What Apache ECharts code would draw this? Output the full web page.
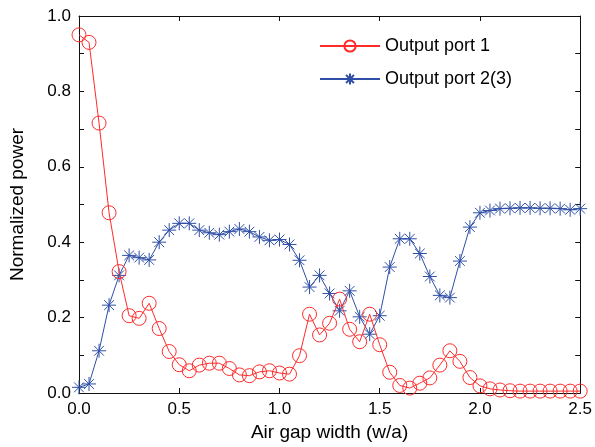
<!DOCTYPE html>
<html>
<head>
<meta charset="utf-8">
<script src="https://cdn.jsdelivr.net/npm/echarts@6/dist/echarts.min.js"></script>
<style>
  html, body { margin: 0; padding: 0; background: #fff; }
  #chart { width: 595px; height: 447px; }
</style>
</head>
<body>
<div id="chart"></div>
<script>
// air gap width (w/a), step 0.05
const gapWidth = [];
for (let i = 0; i <= 50; i++) gapWidth.push(+(i * 0.05).toFixed(2));

const port1 = [
    0.95, 0.93, 0.716, 0.478, 0.322, 0.205, 0.198, 0.238, 0.171, 0.110,
    0.075, 0.059, 0.074, 0.079, 0.079, 0.065, 0.048, 0.046, 0.056, 0.059,
    0.053, 0.050, 0.099, 0.209, 0.154, 0.185, 0.249, 0.169, 0.136, 0.209,
    0.128, 0.055, 0.020, 0.013, 0.026, 0.040, 0.074, 0.112, 0.084, 0.041,
    0.019, 0.011, 0.008, 0.006, 0.005, 0.005, 0.005, 0.005, 0.005, 0.005,
    0.005
];

const port23 = [
    0.015, 0.024, 0.112, 0.233, 0.312, 0.365, 0.359, 0.353, 0.400, 0.432,
    0.450, 0.450, 0.432, 0.425, 0.420, 0.428, 0.435, 0.428, 0.414, 0.405,
    0.407, 0.394, 0.352, 0.281, 0.312, 0.264, 0.218, 0.271, 0.202, 0.156,
    0.205, 0.334, 0.409, 0.409, 0.370, 0.309, 0.259, 0.253, 0.350, 0.440,
    0.478, 0.484, 0.489, 0.490, 0.491, 0.491, 0.490, 0.490, 0.489, 0.486,
    0.489
];

const seriesNames = ['Output port 1', 'Output port 2(3)'];

const red = '#ff2a2a';
const blue = '#2f4fa6';
const asterisk = 'path://M0,-10L0,10M-10,0L10,0M-7,-7L7,7M-7,7L7,-7';

const chart = echarts.init(document.getElementById('chart'));

const frameAxis = {
    axisLine: { show: true, onZero: false, lineStyle: { color: '#111', width: 1 } },
    axisTick: { show: true, inside: true, length: 5, lineStyle: { color: '#111' } },
    splitLine: { show: false }
};

const option = {
    animation: false,
    textStyle: { fontFamily: 'Liberation Sans, Arial, sans-serif' },
    grid: { left: 78, right: 14, top: 16, bottom: 53 },
    legend: {
        orient: 'vertical',
        left: 314,
        top: 32,
        itemWidth: 60,
        itemHeight: 14,
        itemGap: 15,
        textStyle: { fontSize: 18, color: '#000', fontFamily: 'Liberation Sans, Arial, sans-serif' },
        data: seriesNames
    },
    xAxis: [
        Object.assign({}, frameAxis, {
            type: 'value', min: 0, max: 2.5, interval: 0.5,
            name: 'Air gap width (w/a)',
            nameLocation: 'middle', nameGap: 30,
            nameTextStyle: { fontSize: 19, color: '#000' },
            axisLabel: { fontSize: 17, color: '#000', margin: 8, formatter: v => v.toFixed(1) }
        }),
        Object.assign({}, frameAxis, {
            type: 'value', min: 0, max: 2.5, interval: 0.5, position: 'top',
            axisLabel: { show: false }
        })
    ],
    yAxis: [
        Object.assign({}, frameAxis, {
            type: 'value', min: 0, max: 1, interval: 0.1,
            name: 'Normalized power',
            nameLocation: 'middle', nameGap: 52,
            nameTextStyle: { fontSize: 19, color: '#000' },
            axisLabel: {
                fontSize: 17, color: '#000', margin: 8,
                formatter: v => (Math.round(v * 10) % 2 ? '' : v.toFixed(1))
            }
        }),
        Object.assign({}, frameAxis, {
            type: 'value', min: 0, max: 1, interval: 0.1, position: 'right',
            axisLabel: { show: false }
        })
    ],
    series: [
        {
            name: seriesNames[0],
            type: 'line',
            data: gapWidth.map((x, i) => [x, port1[i]]),
            symbol: 'circle',
            symbolSize: 14,
            showAllSymbol: true,
            lineStyle: { color: red, width: 1 },
            itemStyle: { color: 'rgba(0,0,0,0)', borderColor: red, borderWidth: 1 },
            z: 3
        },
        {
            name: seriesNames[1],
            type: 'line',
            data: gapWidth.map((x, i) => [x, port23[i]]),
            symbol: asterisk,
            symbolSize: 14,
            showAllSymbol: true,
            lineStyle: { color: blue, width: 1 },
            itemStyle: { color: 'rgba(0,0,0,0)', borderColor: blue, borderWidth: 1 },
            z: 2
        }
    ]
};

chart.setOption(option);
</script>
</body>
</html>
